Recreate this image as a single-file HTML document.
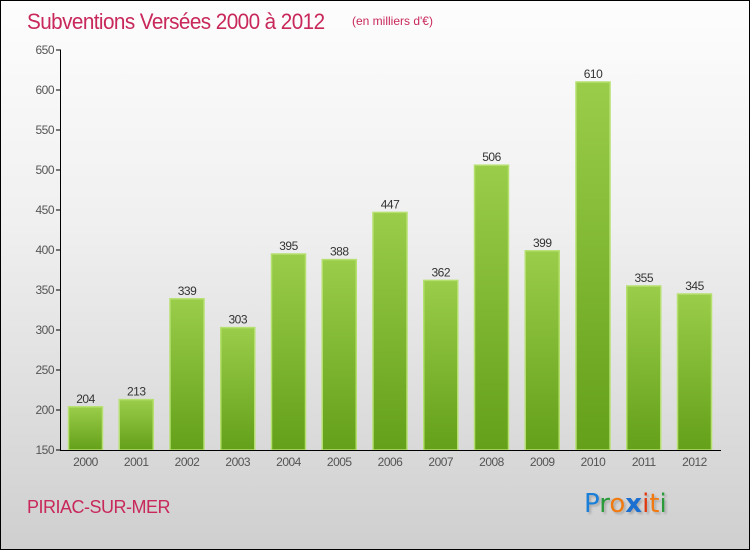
<!DOCTYPE html>
<html><head><meta charset="utf-8"><style>
body{margin:0}
#c{width:750px;height:550px;position:relative;box-sizing:border-box;border:1px solid #000;background:linear-gradient(#fdfdfd,#f0f0f0 40%,#cfcfcf);font-family:"Liberation Sans",sans-serif;overflow:hidden}
.t{position:absolute;color:#c8285a}
</style></head><body>
<div id="c">
<div class="t" style="left:26px;top:8px;font-size:22px;letter-spacing:-0.6px;transform:scaleX(0.94);transform-origin:left">Subventions Versées 2000 à 2012</div>
<div class="t" style="left:351px;top:13px;font-size:12px">(en milliers d'€)</div>
<div class="t" style="left:26px;top:496px;font-size:18px;letter-spacing:-0.5px">PIRIAC-SUR-MER</div>
<div style="position:absolute;left:583px;top:488px;font-size:26px;font-family:'DejaVu Sans',sans-serif;text-shadow:2px 2px 2px #aaa"><span style="color:#1a7fd8">P</span><span style="color:#2a9a3a">r</span><span style="color:#f07a10">o</span><span style="color:#1a6fd0;font-weight:bold">x</span><span style="color:#e03a10">i</span><span style="color:#f07a10">t</span><span style="color:#2a9a3a">i</span></div>
<svg id="s" width="750" height="550" style="position:absolute;left:-1px;top:-1px">
<defs><linearGradient id="g" x1="0" y1="0" x2="0" y2="1"><stop offset="0" stop-color="#9acd4a"/><stop offset="1" stop-color="#64a01a"/></linearGradient></defs>
</svg>
</div>
<script>
const years=["2000","2001","2002","2003","2004","2005","2006","2007","2008","2009","2010","2011","2012"];
const values=[204,213,339,303,395,388,447,362,506,399,610,355,345];
const yTicks=[150,200,250,300,350,400,450,500,550,600,650];
const s=document.getElementById('s'),NS='http://www.w3.org/2000/svg';
const y=v=>50+(650-v)*0.8, x=i=>68+i*50.75;
function mk(t,a,txt){const e=document.createElementNS(NS,t);for(const k in a)e.setAttribute(k,a[k]);if(txt!==undefined)e.textContent=txt;s.appendChild(e);return e;}
yTicks.forEach(v=>{
 const l=mk('line',{x1:56,x2:61,y1:y(v),y2:y(v),stroke:'#000'});
 
 
 const t=mk('text',{x:54,y:y(v)+4,'text-anchor':'end','font-size':12,fill:'#555','font-family':'Liberation Sans','letter-spacing':'-0.5'},v);
 
 
});
values.forEach((v,i)=>{
 const r=mk('rect',{x:x(i)+0.5,y:y(v),width:34,height:450-y(v),fill:'url(#g)',stroke:'#b5e070','stroke-width':1.5});
 
 
 const t=mk('text',{x:x(i)+17.5,y:y(v)-4,'text-anchor':'middle','font-size':12,fill:'#333','font-family':'Liberation Sans','letter-spacing':'-0.5'},v);
 
 
 const xl=mk('text',{x:x(i)+17.5,y:466,'text-anchor':'middle','font-size':12,fill:'#555','font-family':'Liberation Sans','letter-spacing':'-0.5'},years[i]);
 
 
});
const ya=mk('line',{x1:60.5,x2:60.5,y1:50,y2:450,stroke:'#000'});


const xa=mk('line',{x1:60,x2:721,y1:450.5,y2:450.5,stroke:'#000'});


</script>
</body></html>
